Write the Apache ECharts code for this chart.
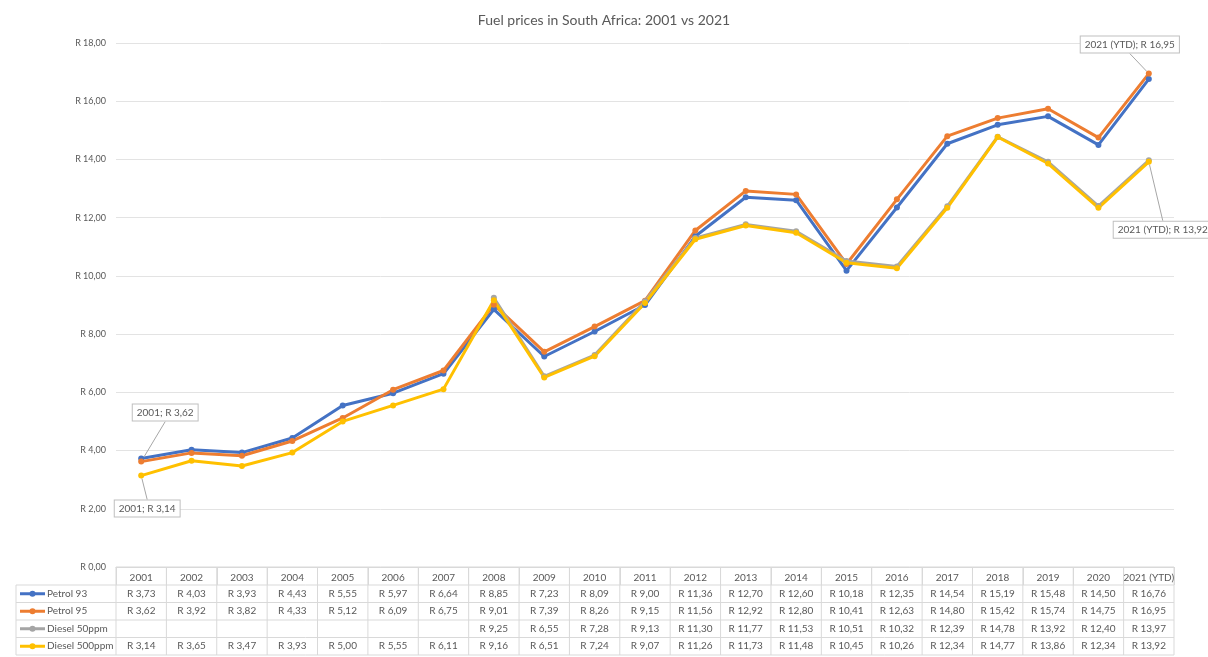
<!DOCTYPE html>
<html>
<head>
<meta charset="utf-8">
<title>Fuel prices in South Africa</title>
<script src="https://cdn.jsdelivr.net/npm/echarts@6/dist/echarts.min.js"></script>
<style>
  html, body { margin: 0; padding: 0; background: #fff; }
  #chart { width: 1208px; height: 657px; }
</style>
</head>
<body>
<div id="chart"></div>
<script>
  const years = ['2001', '2002', '2003', '2004', '2005', '2006', '2007', '2008', '2009', '2010', '2011',
    '2012', '2013', '2014', '2015', '2016', '2017', '2018', '2019', '2020', '2021 (YTD)']
  const petrol93 = [3.73, 4.03, 3.93, 4.43, 5.55, 5.97, 6.64, 8.85, 7.23, 8.09, 9.00,
    11.36, 12.70, 12.60, 10.18, 12.35, 14.54, 15.19, 15.48, 14.50, 16.76]
  const petrol95 = [3.62, 3.92, 3.82, 4.33, 5.12, 6.09, 6.75, 9.01, 7.39, 8.26, 9.15,
    11.56, 12.92, 12.80, 10.41, 12.63, 14.80, 15.42, 15.74, 14.75, 16.95]
  const diesel50 = [null, null, null, null, null, null, null, 9.25, 6.55, 7.28, 9.13,
    11.30, 11.77, 11.53, 10.51, 10.32, 12.39, 14.78, 13.92, 12.40, 13.97]
  const diesel500 = [3.14, 3.65, 3.47, 3.93, 5.00, 5.55, 6.11, 9.16, 6.51, 7.24, 9.07,
    11.26, 11.73, 11.48, 10.45, 10.26, 12.34, 14.77, 13.86, 12.34, 13.92]
  const seriesNames = ['Petrol 93', 'Petrol 95', 'Diesel 50ppm', 'Diesel 500ppm']
  const seriesData = [petrol93, petrol95, diesel50, diesel500]
  const colors = ['#4472c4', '#ed7d31', '#a5a5a5', '#ffc000']

  const font = 'Lato, "Open Sans", sans-serif'
  const rand = v => 'R ' + v.toFixed(2).replace('.', ',')

  // callout boxes on first / last points
  const callout = {
    show: true,
    position: 'inside',
    formatter: p => p.name + '; ' + rand(p.value),
    color: '#595959',
    fontFamily: font,
    fontSize: 10,
    backgroundColor: '#fff',
    borderColor: '#bfbfbf',
    borderWidth: 1,
    padding: [3, 4]
  }
  const offsets = {
    1: {0: [24, -49], 20: [-19, -29]},
    3: {0: [6, 33], 20: [14, 68]}
  }

  function withLabels (data, si) {
    return data.map((v, i) => {
      if (offsets[si] && offsets[si][i] && v != null) {
        return {value: v, label: callout, labelLine: {show: true, lineStyle: {color: '#a6a6a6', width: 1}}}
      }
      return v
    })
  }

  const chart = echarts.init(document.getElementById('chart'))
  chart.setOption({
    animation: false,
    color: colors,
    title: {
      text: 'Fuel prices in South Africa: 2001 vs 2021',
      left: 'center',
      top: 8,
      textStyle: {color: '#595959', fontSize: 14, fontWeight: 'normal', fontFamily: font}
    },
    grid: {left: 116, right: 34, top: 43, bottom: 90},
    xAxis: {
      type: 'category',
      data: years,
      boundaryGap: true,
      axisLine: {lineStyle: {color: '#d9d9d9'}},
      axisTick: {show: true, alignWithLabel: false, length: 18, lineStyle: {color: '#d9d9d9'}},
      axisLabel: {color: '#595959', fontSize: 10, fontFamily: font, margin: 6, interval: 0}
    },
    yAxis: {
      type: 'value',
      min: 0,
      max: 18,
      interval: 2,
      axisLine: {show: false},
      axisTick: {show: false},
      splitLine: {lineStyle: {color: '#e3e3e3'}},
      axisLabel: {color: '#595959', fontSize: 9, fontFamily: font, margin: 10, formatter: v => rand(v)}
    },
    series: seriesData.map((d, si) => ({
      name: seriesNames[si],
      type: 'line',
      data: withLabels(d, si),
      symbol: 'circle',
      symbolSize: 6,
      lineStyle: {width: 3},
      labelLayout: p => {
        const o = offsets[si] && offsets[si][p.dataIndex]
        return o ? {dx: o[0], dy: o[1]} : {}
      }
    }))
  })

  // data table under the plot, aligned to the category axis
  const rowTop = 585
  const rowH = 17.5
  const tableLeft = 16
  const half = (chart.convertToPixel({xAxisIndex: 0}, 1) - chart.convertToPixel({xAxisIndex: 0}, 0)) / 2
  const x0 = chart.convertToPixel({xAxisIndex: 0}, 0) - half
  const x1 = chart.convertToPixel({xAxisIndex: 0}, years.length - 1) + half
  const gridColor = '#d9d9d9'
  const els = []
  const line = (ax, ay, bx, by) => els.push({
    type: 'line', shape: {x1: ax, y1: ay, x2: bx, y2: by}, style: {stroke: gridColor, lineWidth: 1}, silent: true
  })
  const tableBottom = rowTop + rowH * seriesData.length
  line(x0, 567, x1, 567)
  for (let r = 0; r <= seriesData.length; r++) line(tableLeft, rowTop + r * rowH, x1, rowTop + r * rowH)
  line(tableLeft, rowTop, tableLeft, tableBottom)
  for (let i = 0; i <= years.length; i++) line(x0 + i * half * 2, 567, x0 + i * half * 2, tableBottom)
  seriesData.forEach((d, si) => {
    const cy = rowTop + si * rowH + rowH / 2
    els.push({type: 'line', shape: {x1: 20, y1: cy, x2: 45, y2: cy}, style: {stroke: colors[si], lineWidth: 3}, silent: true})
    els.push({type: 'circle', shape: {cx: 32.5, cy: cy, r: 3}, style: {fill: colors[si]}, silent: true})
    els.push({type: 'text', x: 47, y: cy, style: {text: seriesNames[si], fill: '#595959', fontSize: 10, fontFamily: font, verticalAlign: 'middle'}, silent: true})
    d.forEach((v, i) => {
      if (v == null) return
      els.push({
        type: 'text',
        x: chart.convertToPixel({xAxisIndex: 0}, i),
        y: cy,
        style: {text: rand(v), fill: '#595959', fontSize: 10, fontFamily: font, align: 'center', verticalAlign: 'middle'},
        silent: true
      })
    })
  })
  chart.setOption({graphic: {elements: els}})
</script>
</body>
</html>
